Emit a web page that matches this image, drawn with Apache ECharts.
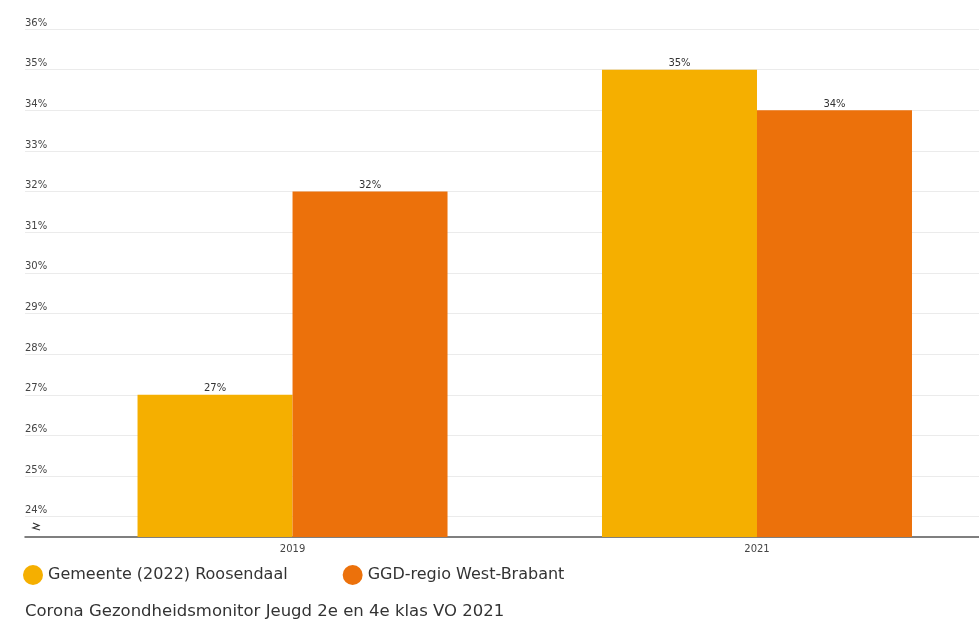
<!DOCTYPE html>
<html><head><meta charset="utf-8">
<script src="https://cdn.jsdelivr.net/npm/echarts@6/dist/echarts.min.js"></script>
<style>html,body{margin:0;padding:0;background:#fff}#c{width:979px;height:623px}</style>
</head><body><div id="c"></div>
<script>
var categories = ['2019', '2021'];
var seriesNames = ['Gemeente (2022) Roosendaal', 'GGD-regio West-Brabant'];
var roosendaal = [27, 35];
var westBrabant = [32, 34];
var yTicks = [24, 25, 26, 27, 28, 29, 30, 31, 32, 33, 34, 35, 36];
var yMin = 23.5, yMax = 36;
var subtitle = 'Corona Gezondheidsmonitor Jeugd 2e en 4e klas VO 2021';

var FONT = '"DejaVu Sans", "Noto Sans", sans-serif';
var chart = echarts.init(document.getElementById('c'), null, {renderer: 'canvas'});
var labelStyle = {show: true, position: 'top', distance: 1, fontSize: 10, color: '#333', fontFamily: FONT,
  formatter: function (p) { return p.value[1] + '%'; }};
function pairs(vals) { return vals.map(function (v, i) { return [i, v]; }); }
chart.setOption({
  animation: false,
  backgroundColor: '#fff',
  textStyle: {fontFamily: FONT},
  grid: {left: 25, right: 0, top: 29, bottom: 86, containLabel: false},
  title: {text: subtitle, left: 20, top: 598, textStyle: {fontSize: 16.5, fontWeight: 'normal', color: '#333', fontFamily: FONT}},
  legend: {
    left: 23, top: 565, padding: 0, icon: 'circle', itemWidth: 20, itemHeight: 20, itemGap: 55,
    textStyle: {fontSize: 16, color: '#333', fontFamily: FONT},
    data: seriesNames
  },
  xAxis: {
    type: 'value', min: -0.576, max: 1.478,
    axisLine: {show: true, onZero: false, lineStyle: {color: '#555', width: 1.5}},
    axisTick: {show: false, customValues: [0, 1]},
    axisLabel: {customValues: [0, 1], fontSize: 10, color: '#444', margin: 7, fontFamily: FONT,
      formatter: function (v) { return categories[Math.round(v)] || ''; }},
    splitLine: {show: false}
  },
  yAxis: {
    type: 'value', min: yMin, max: yMax,
    axisLine: {show: false},
    axisTick: {show: false, customValues: yTicks},
    axisLabel: {inside: true, customValues: yTicks, verticalAlign: 'bottom', align: 'left', margin: 0, padding: [0, 0, 1, 0], fontSize: 10, color: '#444', fontFamily: FONT, formatter: '{value}%'},
    splitLine: {show: true, lineStyle: {color: '#ebebeb', width: 1}}
  },
  series: [
    {name: seriesNames[0], type: 'bar', data: pairs(roosendaal),
     itemStyle: {color: '#f5af00'}, barWidth: 155, barGap: '0%', label: labelStyle},
    {name: seriesNames[1], type: 'bar', data: pairs(westBrabant),
     itemStyle: {color: '#ec710b'}, barWidth: 155, barGap: '0%', label: labelStyle}
  ],
  graphic: [
    {type: 'polyline', shape: {points: [[33, 523], [39, 525.5], [33, 528], [40, 530]]}, style: {stroke: '#333', lineWidth: 1.2, fill: null}}
  ]
});
</script></body></html>
